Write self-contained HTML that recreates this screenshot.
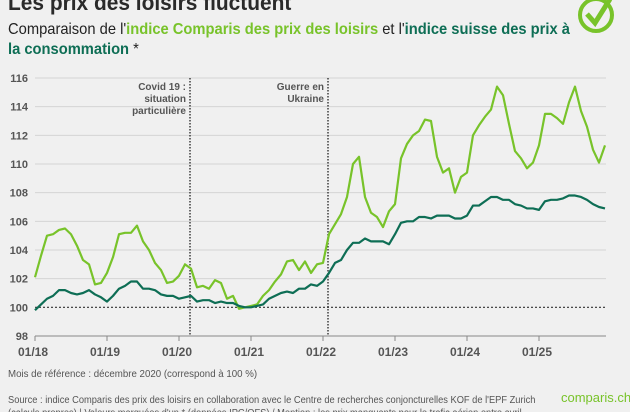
<!DOCTYPE html>
<html><head><meta charset="utf-8"><style>
body{margin:0;background:#f0f0f0;font-family:"Liberation Sans",sans-serif;}
#wrap{position:relative;width:630px;height:412px;overflow:hidden;background:#f0f0f0;}
.t{position:absolute;white-space:nowrap;}
</style></head><body>
<div id="wrap">
<div class="t" style="left:8px;top:-10px;font-size:22px;font-weight:bold;color:#2a2a2a;transform:scaleX(0.95);transform-origin:left;">Les prix des loisirs fluctuent</div>
<div class="t" style="left:8px;top:20px;font-size:16px;line-height:20px;color:#222;transform:scaleX(0.92);transform-origin:left;">Comparaison de l'<b style="color:#78c32a">indice Comparis des prix des loisirs</b> et l'<b style="color:#0e6e55">indice suisse des prix à</b><br><b style="color:#0e6e55">la consommation</b> *</div>
<svg style="position:absolute;left:576px;top:-5px" width="40" height="40" viewBox="0 0 40 40"><circle cx="20" cy="20" r="16" fill="none" stroke="#78c32a" stroke-width="4"/><path d="M11 19 L19 28 L34 4" fill="none" stroke="#78c32a" stroke-width="5"/></svg>
<svg id="chart" style="position:absolute;left:0;top:0" width="630" height="412"></svg>
<div class="t" style="left:8px;top:369px;font-size:10px;color:#555;transform:scaleX(0.97);transform-origin:left;">Mois de référence : décembre 2020 (correspond à 100 %)</div>
<div class="t" style="left:8px;top:394px;font-size:10px;line-height:13px;color:#555;transform:scaleX(0.93);transform-origin:left;">Source : indice Comparis des prix des loisirs en collaboration avec le Centre de recherches conjoncturelles KOF de l'EPF Zurich<br>(calculs propres) | Valeurs marquées d'un * (données IPC/OFS) / Mention : les prix manquants pour le trafic aérien entre avril</div>
<div class="t" style="left:561px;top:390px;font-size:13px;color:#78c32a;">comparis.ch</div>
</div>
<script>
const yTicks=[98,100,102,104,106,108,110,112,114,116];
const xLabels=["01/18","01/19","01/20","01/21","01/22","01/23","01/24","01/25"];
const leisure=[102.1,103.6,105.0,105.1,105.4,105.5,105.1,104.3,103.3,103.0,101.6,101.7,
102.4,103.5,105.1,105.2,105.2,105.7,104.6,104.0,103.1,102.6,101.7,101.8,
102.2,103.0,102.7,101.4,101.5,101.3,101.9,101.7,100.6,100.8,99.9,100.0,
100.1,100.2,100.8,101.2,101.8,102.3,103.2,103.3,102.6,103.2,102.4,103.0,
103.1,105.1,105.8,106.5,107.7,110.0,110.5,107.7,106.6,106.3,105.6,106.7,
107.2,110.4,111.4,112.0,112.3,113.1,113.0,110.5,109.4,109.7,108.0,109.1,
109.4,112.0,112.7,113.3,113.8,115.4,114.8,112.8,110.9,110.4,109.7,110.1,
111.3,113.5,113.5,113.2,112.8,114.3,115.4,113.7,112.6,111.0,110.1,111.3];
const cpi=[99.8,100.2,100.6,100.8,101.2,101.2,101.0,100.9,101.0,101.2,100.9,100.7,
100.4,100.8,101.3,101.5,101.8,101.8,101.3,101.3,101.2,100.9,100.8,100.8,
100.6,100.7,100.8,100.4,100.5,100.5,100.3,100.4,100.3,100.3,100.1,100.0,
100.0,100.1,100.2,100.6,100.8,101.0,101.1,101.0,101.3,101.3,101.6,101.5,
101.8,102.4,103.1,103.3,104.0,104.5,104.5,104.8,104.6,104.6,104.6,104.4,
105.1,105.9,106.0,106.0,106.3,106.3,106.2,106.4,106.4,106.4,106.2,106.2,
106.4,107.1,107.1,107.4,107.7,107.7,107.5,107.5,107.2,107.1,106.9,106.9,
106.8,107.4,107.5,107.5,107.6,107.8,107.8,107.7,107.5,107.2,107.0,106.9];
const events=[{m:26,label:["Covid 19 :","situation","particulière"]},{m:49,label:["Guerre en","Ukraine"]}];
const X0=35,PXM=6,Y98=336,PXU=14.333,XR=606;
const xs=m=>X0+m*PXM, ys=v=>Y98-(v-98)*PXU;
const svg=document.getElementById('chart'),NS="http://www.w3.org/2000/svg";
function mk(t,a,p){const e=document.createElementNS(NS,t);for(const k in a)e.setAttribute(k,a[k]);(p||svg).appendChild(e);return e;}
yTicks.forEach(v=>{
 if(v>98){const g=mk('line',{x1:X0,x2:XR,y1:ys(v),y2:ys(v),stroke:v===100?'#333':'#d4d4d4','stroke-width':v===100?1.2:1,'stroke-dasharray':v===100?'2,2':'none'});
 
 }
 const t=mk('text',{x:28,y:ys(v)+4,'text-anchor':'end','font-size':11,'font-weight':'bold',fill:'#555'});t.textContent=v;
 
 
});
const ax=mk('line',{x1:X0,x2:XR,y1:Y98,y2:Y98,stroke:'#888','stroke-width':1});


xLabels.forEach((l,i)=>{
 const x=xs(i*12);
 const tk=mk('line',{x1:x,x2:x,y1:Y98,y2:Y98+5,stroke:'#888'});
 
 
 const t=mk('text',{x:x-2,y:356,'text-anchor':'middle','font-size':12,'font-weight':'bold',fill:'#555'});t.textContent=l;
 
 
});
events.forEach(ev=>{
 const x=xs(ev.m)-1;
 const l=mk('line',{x1:x,x2:x,y1:ys(116),y2:Y98,stroke:'#222','stroke-width':1.3,'stroke-dasharray':'1.5,1.5'});
 
 
 ev.label.forEach((s,i)=>{const t=mk('text',{x:x-4,y:ys(116)+12+i*12,'text-anchor':'end','font-size':10,'font-weight':'bold',fill:'#555'});t.textContent=s;
 
 });
});
function line(arr,col,name){
 const p=mk('polyline',{points:arr.map((v,i)=>xs(i)+','+ys(v)).join(' '),fill:'none',stroke:col,'stroke-width':2.2,'stroke-linejoin':'round'});
 
 
}
line(leisure,'#78c32a','leisure-price-index-line');
line(cpi,'#0e6e55','consumer-price-index-line');
</script>
</body></html>
